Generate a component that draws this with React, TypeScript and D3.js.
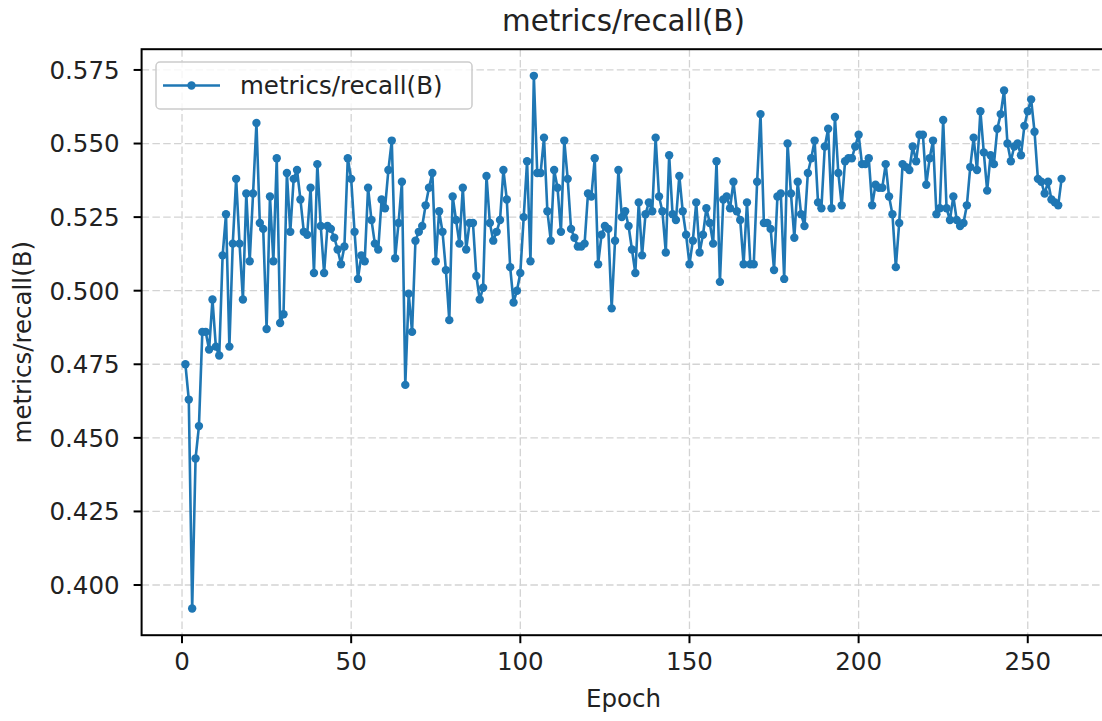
import React from "react";
import * as d3 from "d3";

const title = "metrics/recall(B)";
const xLabel = "Epoch";
const yLabel = "metrics/recall(B)";
const seriesName = "metrics/recall(B)";

const recall: number[] = [
  0.475, 0.463, 0.392, 0.443, 0.454, 0.486, 0.486, 0.480, 0.497, 0.481, 0.478, 0.512, 0.526, 0.481, 0.516, 0.538, 0.516, 0.497, 0.533, 0.510, 0.533, 0.557, 0.523,
  0.521, 0.487, 0.532, 0.510, 0.545, 0.489, 0.492, 0.540, 0.520, 0.538, 0.541, 0.531, 0.520, 0.519, 0.535, 0.506, 0.543, 0.522, 0.506, 0.522, 0.521, 0.518, 0.514, 0.509, 0.515, 0.545, 0.538, 0.520, 0.504, 0.512, 0.510, 0.535,
  0.524, 0.516, 0.514, 0.531, 0.528, 0.541, 0.551, 0.511, 0.523, 0.537, 0.468, 0.499, 0.486, 0.517, 0.520, 0.522, 0.529, 0.535, 0.540, 0.510, 0.527, 0.520, 0.507, 0.490, 0.532, 0.524, 0.516, 0.535, 0.514, 0.523, 0.523, 0.505, 0.497, 0.501, 0.539,
  0.523, 0.517, 0.520, 0.524, 0.541, 0.531, 0.508, 0.496, 0.500, 0.506, 0.525, 0.544, 0.510, 0.573, 0.540, 0.540, 0.552, 0.527, 0.517, 0.541, 0.535, 0.520, 0.551, 0.538, 0.521, 0.518, 0.515, 0.515, 0.516, 0.533, 0.532, 0.545, 0.509,
  0.519, 0.522, 0.521, 0.494, 0.517, 0.541, 0.525, 0.527, 0.522, 0.514, 0.506, 0.530, 0.512, 0.526, 0.530, 0.527, 0.552, 0.532, 0.527, 0.513, 0.546, 0.526, 0.524, 0.539, 0.527, 0.519, 0.509, 0.517, 0.530, 0.513, 0.519, 0.528, 0.523, 0.516, 0.544, 0.503,
  0.531, 0.532, 0.528, 0.537, 0.527, 0.524, 0.509, 0.530, 0.509, 0.509, 0.537, 0.560, 0.523, 0.523, 0.521, 0.507, 0.532, 0.533, 0.504, 0.550, 0.533, 0.518, 0.537, 0.526, 0.522, 0.540, 0.545, 0.551, 0.530, 0.528, 0.549, 0.555, 0.528, 0.559,
  0.540, 0.529, 0.544, 0.545, 0.545, 0.549, 0.553, 0.543, 0.543, 0.545, 0.529, 0.536, 0.535, 0.535, 0.543, 0.532, 0.526, 0.508, 0.523, 0.543, 0.542, 0.541, 0.549, 0.544, 0.553, 0.553, 0.536, 0.545, 0.551, 0.526, 0.528, 0.558, 0.528,
  0.524, 0.532, 0.524, 0.522, 0.523, 0.529, 0.542, 0.552, 0.541, 0.561, 0.547, 0.534, 0.546, 0.543, 0.555, 0.560, 0.568, 0.550, 0.544, 0.549, 0.550, 0.546, 0.556, 0.561, 0.565, 0.554, 0.538, 0.537, 0.533, 0.537, 0.531, 0.530, 0.529, 0.538,
];
const epochs: number[] = recall.map((_, i) => i + 1);

const xTicks = [0, 50, 100, 150, 200, 250];
const yTicks = [0.4, 0.425, 0.45, 0.475, 0.5, 0.525, 0.55, 0.575];

const W = 1102;
const H = 721;
const COLOR = "#1f77b4";
const FONT = "DejaVu Sans, sans-serif";

export default function App() {
  const xMin = d3.min(epochs)!;
  const xMax = d3.max(epochs)!;
  const xPad = (xMax - xMin) * 0.05;
  const yMin = d3.min(recall)!;
  const yMax = d3.max(recall)!;
  const yPad = (yMax - yMin) * 0.05;

  const x = d3.scaleLinear().domain([xMin - xPad, xMax + xPad]).range([141.6, 1105.4]);
  const y = d3.scaleLinear().domain([yMin - yPad, yMax + yPad]).range([635.2, 49.2]);

  const [x0, x1] = x.range();
  const [y0, y1] = y.range();

  const line = d3
    .line<number>()
    .x((_, i) => x(epochs[i]))
    .y((d) => y(d));

  const fmt = d3.format(".3f");
  const tickLen = 8;
  const cx = (x0 + x1) / 2;
  const cy = (y0 + y1) / 2;

  return (
    <svg
      width={W}
      height={H}
      style={{ position: "absolute", left: 0, top: 0, background: "#fff" }}
      fontFamily={FONT}
    >
      <rect x={0} y={0} width={W} height={H} fill="#fff" />
      {/* grid */}
      <g stroke="#d3d3d3" strokeWidth={1.3} strokeDasharray="7.5,3.3">
        {xTicks.map((t) => (
          <line key={"gx" + t} x1={x(t)} x2={x(t)} y1={y1} y2={y0} />
        ))}
        {yTicks.map((t) => (
          <line key={"gy" + t} x1={x0} x2={x1} y1={y(t)} y2={y(t)} />
        ))}
      </g>
      {/* series */}
      <path d={line(recall) || ""} fill="none" stroke={COLOR} strokeWidth={2.6} strokeLinejoin="round" />
      <g fill={COLOR}>
        {recall.map((v, i) => (
          <circle key={i} cx={x(epochs[i])} cy={y(v)} r={4.2} />
        ))}
      </g>
      {/* frame */}
      <rect x={x0} y={y1} width={x1 - x0} height={y0 - y1} fill="none" stroke="#000" strokeWidth={2} />
      {/* x ticks */}
      {xTicks.map((t) => (
        <g key={"xt" + t}>
          <line x1={x(t)} x2={x(t)} y1={y0} y2={y0 + tickLen} stroke="#000" strokeWidth={2} />
          <text x={x(t)} y={670} textAnchor="middle" fontSize={24.5} fill="#222">
            {t}
          </text>
        </g>
      ))}
      {/* y ticks */}
      {yTicks.map((t) => (
        <g key={"yt" + t}>
          <line x1={x0 - tickLen} x2={x0} y1={y(t)} y2={y(t)} stroke="#000" strokeWidth={2} />
          <text x={x0 - tickLen - 14} y={y(t)} dy="0.36em" textAnchor="end" fontSize={24.5} fill="#222">
            {fmt(t)}
          </text>
        </g>
      ))}
      {/* labels */}
      <text x={cx} y={707} textAnchor="middle" fontSize={24.5} fill="#222">
        {xLabel}
      </text>
      <text
        transform={`translate(31,${cy}) rotate(-90)`}
        textAnchor="middle"
        fontSize={24.5}
        fill="#222"
      >
        {yLabel}
      </text>
      <text x={cx} y={31} textAnchor="middle" fontSize={29.4} fill="#222">
        {title}
      </text>
      {/* legend */}
      <g>
        <rect x={156} y={62} width={316} height={47} rx={4} fill="#fff" fillOpacity={0.8} stroke="#cccccc" strokeWidth={1.5} />
        <line x1={163} x2={220} y1={85.5} y2={85.5} stroke={COLOR} strokeWidth={2.6} />
        <circle cx={191.5} cy={85.5} r={4.2} fill={COLOR} />
        <text x={240} y={94} fontSize={24.5} fill="#222">
          {seriesName}
        </text>
      </g>
    </svg>
  );
}
